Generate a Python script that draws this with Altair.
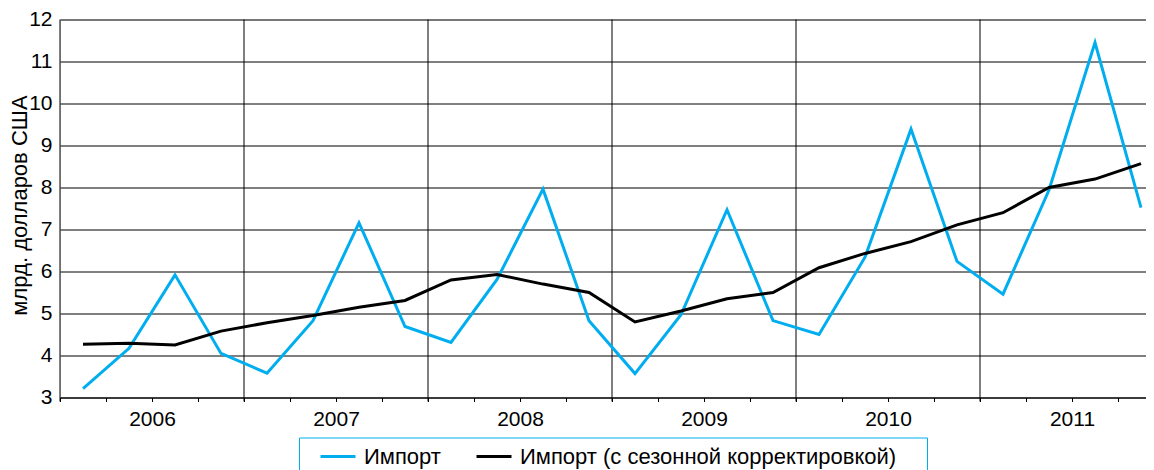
import altair as alt
import pandas as pd

# --- data ---
years = [2006, 2007, 2008, 2009, 2010, 2011]
quarters = ["I", "II", "III", "IV"]
imports = [3.21, 4.17, 5.92, 4.05,
           3.58, 4.83, 7.16, 4.69,
           4.31, 5.81, 7.96, 4.83,
           3.57, 4.97, 7.47, 4.83,
           4.50, 6.34, 9.39, 6.24,
           5.46, 7.94, 11.45, 7.52]
imports_sa = [4.27, 4.29, 4.25, 4.58,
              4.78, 4.95, 5.15, 5.31,
              5.80, 5.93, 5.70, 5.50,
              4.80, 5.06, 5.35, 5.50,
              6.09, 6.43, 6.71, 7.11,
              7.40, 8.00, 8.20, 8.57]
series_names = ["Импорт", "Импорт (с сезонной корректировкой)"]
series_colors = ["#00aeef", "#000000"]
y_ticks = list(range(3, 13))

rows = []
for i, (a, b) in enumerate(zip(imports, imports_sa)):
    period = f"{years[i // 4]} {quarters[i % 4]}"
    rows.append({"t": i + 0.5, "period": period, "value": a, "series": series_names[0]})
    rows.append({"t": i + 0.5, "period": period, "value": b, "series": series_names[1]})
df = pd.DataFrame(rows)
year_df = pd.DataFrame({"t": [4 * k for k in range(len(years))]})

W, H = 1086, 378
QW = 46.0
FONT = "Liberation Sans"
FS = 21
LFS = 22

x_scale = alt.Scale(domain=[0, W / QW], nice=False, zero=False)
y_scale = alt.Scale(domain=[3, 12], nice=False, zero=False)

label_expr = (
    f"datum.value % 4 == 2 ? '' + ({years[0]} + floor(datum.value / 4)) : ''"
)
legend_label_expr = (
    f"datum.label == '{series_names[0]}' ? datum.label : "
    "datum.label + '\u00a0\u00a0\u00a0\u00a0\u00a0\u200b'"
)

lines = alt.Chart(df).mark_line(strokeWidth=3, strokeJoin="miter").encode(
    x=alt.X("t:Q", scale=x_scale,
            axis=alt.Axis(values=list(range(0, 24)), labelExpr=label_expr,
                          grid=False, domain=True, domainColor="#000",
                          tickColor="#000", tickSize=4, labelPadding=7,
                          labelFontSize=FS, labelColor="#000",
                          labelOverlap=False, labelFlush=False, title=None)),
    y=alt.Y("value:Q", scale=y_scale,
            axis=alt.Axis(values=y_ticks, grid=True, gridColor="#000",
                          gridWidth=1, domain=False, ticks=False,
                          labelPadding=8, labelFontSize=FS, labelColor="#000",
                          title="млрд. долларов США", titleFontSize=22,
                          titleFontWeight="normal", titleColor="#000",
                          titleAngle=270, titleX=-34, titleY=185.5,
                          titleAlign="center", titleBaseline="alphabetic")),
    color=alt.Color("series:N",
                    scale=alt.Scale(domain=series_names, range=series_colors),
                    legend=alt.Legend(title="\u00a0", titleOrient="bottom",
                                      titleFontSize=14, titlePadding=0,
                                      orient="none",
                                      direction="horizontal",
                                      legendX=239, legendY=418,
                                      symbolType="stroke", symbolSize=1225,
                                      symbolStrokeWidth=3, symbolOffset=20,
                                      labelFontSize=LFS, labelColor="#000",
                                      labelOffset=7, columnPadding=14,
                                      labelExpr=legend_label_expr,
                                      padding=0, strokeColor="#00aeef",
                                      fillColor="#ffffff", labelLimit=700)),
    detail="series:N",
    order="t:Q",
)

year_rules = alt.Chart(year_df).mark_rule(color="#000", strokeWidth=1).encode(
    x=alt.X("t:Q", scale=x_scale),
    y=alt.value(0),
    y2=alt.value(H + 4),
)

chart = alt.layer(year_rules, lines).properties(
    width=W, height=H,
    autosize=alt.AutoSizeParams(type="none"),
    padding={"left": 52, "top": 11.5, "right": 0, "bottom": 72.5},
).configure_view(stroke=None).configure(font=FONT)

chart.save("out.html", embed_options={"renderer": "svg", "actions": False})
